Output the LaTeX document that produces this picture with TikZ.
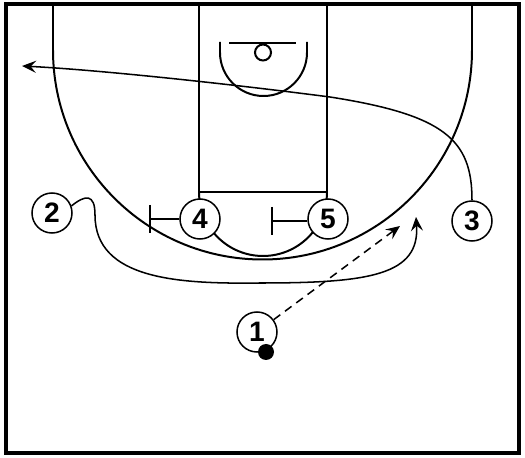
\documentclass[tikz,border=0pt]{standalone}
\usepackage{fontspec}
\setmainfont{Liberation Sans}
\usetikzlibrary{arrows.meta}

\begin{document}
\begin{tikzpicture}[x=0.03cm, y=-0.03cm,
    linea/.style={line width=1.7pt},
    jugador/.style={circle, draw, fill=white, line width=1.3pt, minimum size=1.2cm,
        inner sep=0pt, font=\bfseries\fontsize{24}{24}\selectfont},
    corte/.style={line width=1.3pt, -{Stealth[length=4.2mm, width=3.6mm, inset=1.6mm]}},
    pase/.style={corte, dash pattern=on 7pt off 5pt}]

    \useasboundingbox (0,0) rectangle (525,458);

    % Cancha
    \draw[line width=2.6pt] (6,4) rectangle (519,453);
    \draw[linea] (53,4) -- (53,50) arc[start angle=180, end angle=0, radius=209.5] -- (472,4);
    \draw[linea] (199,4) -- (199,192) -- (327,192) -- (327,4);
    \draw[linea] (199,192) arc[start angle=180, end angle=0, radius=64];

    % Aro y tablero
    \draw[linea] (229,43) -- (296,43);
    \draw[linea] (263,52.5) circle (8);
    \draw[linea] (220,42) -- (220,52.5) arc[start angle=180, end angle=0, radius=43.5] -- (307,42);

    % Jugadores
    \foreach \n/\x/\y in {1/257/332, 2/52/213, 3/472/221, 4/200/219, 5/328/219} {
        \node[jugador] (p\n) at (\x,\y) {\n};
    }
    \fill (266,352) circle (8);

    % Bloqueos
    \coordinate (b4) at (150,219);
    \coordinate (b5) at (272,221);
    \draw[linea] (p4) -- (b4);
    \draw[linea] (b4) ++(0,-14) -- ++(0,28);
    \draw[linea] (p5.west |- b5) -- (b5);
    \draw[linea] (b5) ++(0,-14) -- ++(0,28);

    % Cortes y pase
    \coordinate (f1) at (400,226);
    \coordinate (f2) at (416,217);
    \coordinate (f3) at (22,66);
    \draw[corte] (p3.north) .. controls (472,140) and (445,115) .. (330,97)
        .. controls (230,84) and (100,70) .. (f3);
    \draw[corte] (p2.20) .. controls (85,195) and (95,193) .. (95,215)
        .. controls (95,280) and (180,284) .. (260,283)
        .. controls (370,283) and (420,275) .. (f2);
    \draw[pase] (p1) -- (f1);

\end{tikzpicture}
\end{document}
